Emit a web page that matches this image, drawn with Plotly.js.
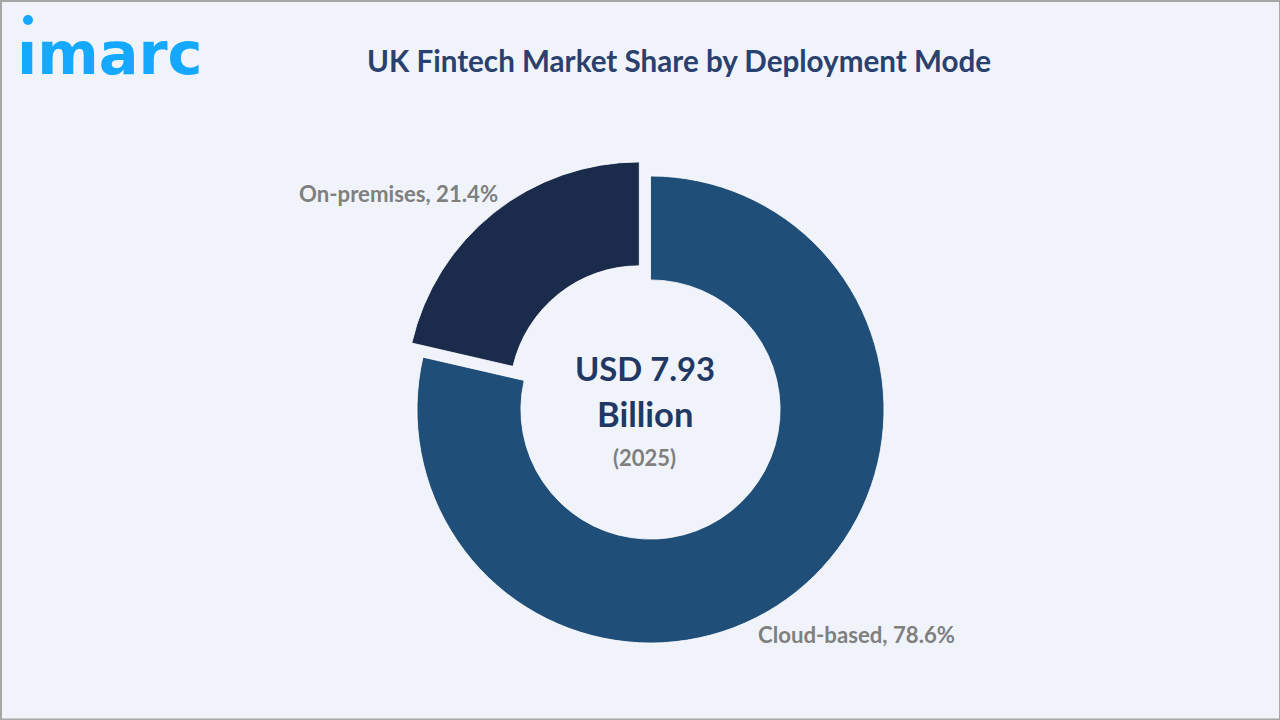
<!DOCTYPE html>
<html><head><meta charset="utf-8">
<script src="https://cdn.plot.ly/plotly-3.0.1.min.js"></script>
<style>html,body{margin:0;padding:0;background:#f0f4fa}#c{width:1280px;height:720px}</style>
</head><body><div id="c"></div>
<script>
const categories = ["Cloud-based", "On-premises"];
const shares = [78.6, 21.4];
const sliceColors = ["#1f4e79", "#1a2b4c"];
const pulls = [0, 0.077];
const chartTitle = "UK Fintech Market Share by Deployment Mode";
const centerValue = ["USD 7.93", "Billion"];
const centerYear = "(2025)";
const W = 1280, H = 720;
const cx = 650.5, cy = 409.5, R = 233.5;
const span = R * (1 + 0.077);
const fx = p => p / W, fy = p => 1 - p / H;
const bold = "Lato, Carlito, sans-serif";
const labelFor = i => categories[i] + ", " + shares[i] + "%";
const border = "#a6a6a6";
const bg = "#f0f4fa";
const logoBlue = "#14a9ff";
const data = [{
  type: "pie", labels: categories, values: shares, sort: false, direction: "clockwise", rotation: 0,
  hole: 0.555, pull: pulls, textinfo: "none", showlegend: false,
  marker: {colors: sliceColors, line: {color: "#ffffff", width: 0.8}},
  domain: {x: [fx(cx - span), fx(cx + span)], y: [fy(cy + span), fy(cy - span)]}
}];
const ann = (text, x, y, size, color, extra) => Object.assign({
  text, xref: "paper", yref: "paper", x: fx(x), y: fy(y), showarrow: false,
  xanchor: "center", yanchor: "middle",
  font: {family: bold, size, color, weight: 700}
}, extra || {});
const layout = {
  width: W, height: H, margin: {l: 0, r: 0, t: 0, b: 0},
  paper_bgcolor: bg, plot_bgcolor: bg,
  annotations: [
    ann(chartTitle, 679, 60, 29.6, "#2a4170"),
    ann(labelFor(1), 398.5, 193.5, 22.2, "#7f7f7f"),
    ann(labelFor(0), 856, 634, 22.2, "#7f7f7f"),
    ann(centerValue[0], 644.5, 369, 32.8, "#1f3864"),
    ann(centerValue[1], 644.5, 414, 34.5, "#1f3864"),
    ann(centerYear, 644.5, 457, 22, "#7f7f7f"),
    ann("imarc", 109.5, 54, 59, logoBlue, {font: {family: "DejaVu Sans, sans-serif", size: 59, color: logoBlue, weight: 700}}),
    ann(" ", 28, 35, 8, bg, {width: 24, height: 12, bgcolor: bg, borderpad: 0})
  ],
  shapes: [
    {type: "circle", xref: "paper", yref: "paper", x0: fx(23), x1: fx(33), y0: fy(25), y1: fy(15), fillcolor: logoBlue, line: {width: 0}},
    {type: "rect", xref: "paper", yref: "paper", x0: 0, x1: 1, y0: fy(2), y1: 1, fillcolor: border, line: {width: 0}},
    {type: "rect", xref: "paper", yref: "paper", x0: 0, x1: 1, y0: 0, y1: fy(718.5), fillcolor: border, line: {width: 0}},
    {type: "rect", xref: "paper", yref: "paper", x0: 0, x1: fx(2), y0: 0, y1: 1, fillcolor: border, line: {width: 0}},
    {type: "rect", xref: "paper", yref: "paper", x0: fx(1279), x1: 1, y0: 0, y1: 1, fillcolor: border, line: {width: 0}}
  ]
};
Plotly.newPlot("c", data, layout, {displayModeBar: false, staticPlot: true});
</script></body></html>
